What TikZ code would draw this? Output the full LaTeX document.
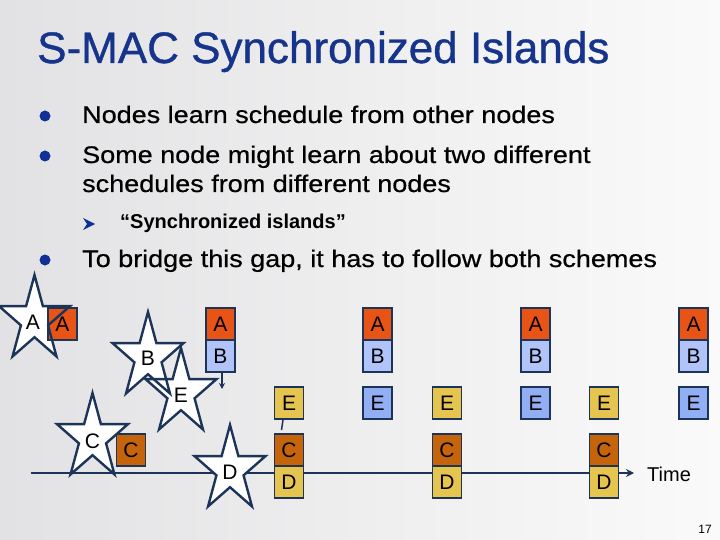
\documentclass[tikz,border=0pt]{standalone}
\usepackage{fontspec}
\setmainfont{Liberation Sans}
\newfontfamily\bodyfont{Liberation Sans}[FakeStretch=1.125, FakeBold=0.6]
\newfontfamily\titlefont{Liberation Sans}[FakeBold=0.9]
\usetikzlibrary{arrows.meta}
\definecolor{titleblue}{RGB}{22,52,140}
\definecolor{bulletblue}{RGB}{16,48,150}
\definecolor{navy}{RGB}{28,52,88}
\definecolor{orangeA}{RGB}{232,84,22}
\definecolor{brownC}{RGB}{198,100,12}
\definecolor{lightB}{RGB}{176,196,250}
\definecolor{blueE}{RGB}{146,174,244}
\definecolor{yellowE}{RGB}{230,196,80}
\definecolor{bgA}{RGB}{226,226,228}
\definecolor{bgB}{RGB}{250,250,250}
\tikzset{
  slot/.style={draw=navy, line width=1.8pt, minimum width=29pt, minimum height=32pt,
    inner sep=0pt, font=\fontsize{21}{21}\selectfont},
  slotA/.style={slot, fill=orangeA},
  slotB/.style={slot, fill=lightB},
  slotEb/.style={slot, fill=blueE},
  slotEy/.style={slot, fill=yellowE},
  slotC/.style={slot, fill=brownC},
  slotD/.style={slot, fill=yellowE},
  starlabel/.style={inner sep=0pt, font=\fontsize{21}{21}\selectfont},
  body/.style={anchor=base west, inner sep=0pt, font=\bodyfont\fontsize{24}{28}\selectfont},
  dot/.style={circle, fill=bulletblue, minimum size=11pt, inner sep=0pt},
  conn/.style={draw=navy, line width=2pt},
  starfillpic/.pic={\fill[white, xscale=0.83, yscale=-1] (90:45) -- (126:17.2) -- (162:45) -- (198:17.2) -- (234:45) -- (270:17.2) -- (306:45) -- (342:17.2) -- (18:45) -- (54:17.2) -- cycle;},
  starlinepic/.pic={\draw[navy, line width=2.4pt, line join=miter, xscale=0.83, yscale=-1] (90:45) -- (126:17.2) -- (162:45) -- (198:17.2) -- (234:45) -- (270:17.2) -- (306:45) -- (342:17.2) -- (18:45) -- (54:17.2) -- cycle;}
}
\begin{document}
\begin{tikzpicture}[x=1pt, y=-1pt]
\useasboundingbox (0,0) rectangle (720,540);
\shade[left color=bgA, right color=bgB] (0,0) rectangle (720,540);

% title and text
\node[anchor=base west, inner sep=0pt, text=titleblue, font=\titlefont\fontsize{44}{48}\selectfont] (title) at (37,63) {S-MAC Synchronized Islands};
\node[dot] (d1) at (45,116) {};
\node[dot] (d2) at (45,156) {};
\node[dot] (d3) at (45,260) {};
\node[body] (t1) at (82,123) {Nodes learn schedule from other nodes};
\node[body] (t2) at (82,163) {Some node might learn about two different};
\node[body] (t3) at (82,192) {schedules from different nodes};
\fill[bulletblue] (83,218) -- (95,224) -- (83,230) -- (87,224) -- cycle;
\node[anchor=base west, inner sep=0pt, font=\bfseries\fontsize{20}{24}\selectfont] (t4) at (120,229) {“Synchronized islands”};
\node[body] (t5) at (82,267) {To bridge this gap, it has to follow both schemes};

% time line
\coordinate (tstart) at (31,473);
\coordinate (tend) at (634,473);
\draw[conn, -{Stealth[length=8pt,width=8pt]}] (tstart) -- (tend);
\node[anchor=west, inner sep=0pt, font=\fontsize{20}{20}\selectfont] (time) at (647,474) {Time};

% star centres
\coordinate (sA) at (34.5,320);
\coordinate (sB) at (148,357);
\coordinate (sE) at (181,393);
\coordinate (sC) at (92.5,438);
\coordinate (sD) at (230,470);
\foreach \s in {sA,sB,sE,sC,sD} {\pic at (\s) {starfillpic};}

% boxes
\node[slotA] (bA) at (62.5,324) {A};
\node[slotC] (bC) at (131,450) {C};

\node[slotA] (a1) at (220.5,324) {A};
\node[slotB] (b1) at (220.5,356) {B};
\node[slotEy] (e2) at (289,403) {E};
\node[slotC] (c2) at (289,450) {C};
\node[slotD] (dd2) at (289,482) {D};
\node[slotA] (a3) at (377.5,324) {A};
\node[slotB] (b3) at (377.5,356) {B};
\node[slotEb] (e3) at (377.5,403) {E};
\node[slotEy] (e4) at (447,403) {E};
\node[slotC] (c4) at (447,450) {C};
\node[slotD] (dd4) at (447,482) {D};
\node[slotA] (a5) at (535.5,324) {A};
\node[slotB] (b5) at (535.5,356) {B};
\node[slotEb] (e5) at (535.5,403) {E};
\node[slotEy] (e6) at (604,403) {E};
\node[slotC] (c6) at (604,450) {C};
\node[slotD] (dd6) at (604,482) {D};
\node[slotA] (a7) at (693.5,324) {A};
\node[slotB] (b7) at (693.5,356) {B};
\node[slotEb] (e7) at (693.5,403) {E};

% small connectors
\coordinate (b1tip) at (222,389);
\draw[navy, line width=1.5pt, -{Stealth[length=6pt,width=6pt]}] ([xshift=1.5pt]b1.south) -- (b1tip);
\coordinate (e2stub) at (281.5,430);
\draw[navy, line width=1.5pt] ([xshift=-6pt]e2.south) -- (e2stub);

% star outlines and labels
\foreach \s in {sA,sB,sE,sC,sD} {\pic at (\s) {starlinepic};}
\node[starlabel] (lA) at ([xshift=-1.5pt,yshift=-2pt]sA) {A};
\node[starlabel] (lB) at ([yshift=-1pt]sB) {B};
\node[starlabel] (lE) at ([yshift=-2pt]sE) {E};
\node[starlabel] (lC) at ([yshift=-3pt]sC) {C};
\node[starlabel] (lD) at ([yshift=-2pt]sD) {D};

\node[anchor=base east, inner sep=0pt, font=\fontsize{12}{12}\selectfont] (pg) at (712,533) {17};
\end{tikzpicture}
\end{document}
